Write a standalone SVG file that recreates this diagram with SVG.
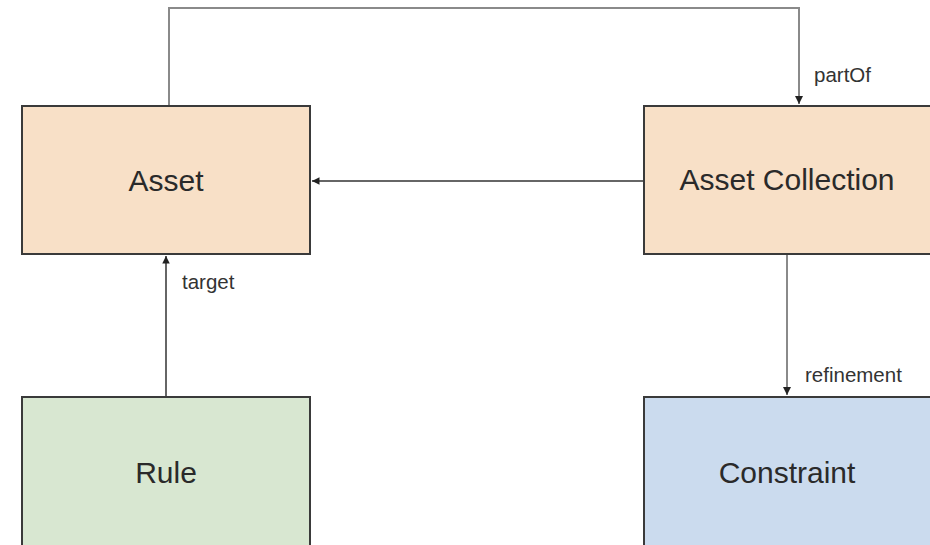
<svg xmlns="http://www.w3.org/2000/svg" width="930" height="545" viewBox="0 0 930 545">
<style>
.box{stroke:#3a3a3a;stroke-width:2}
.lbl{font-family:"Liberation Sans",Arial,sans-serif;font-size:30px;fill:#2a2a2a;text-anchor:middle}
.small{font-family:"Liberation Sans",Arial,sans-serif;font-size:20.5px;fill:#333}
.gray{stroke:#8a8a8a;stroke-width:2;fill:none}
.dark{stroke:#333;stroke-width:1.5;fill:none}
</style>
<defs>
<marker id="arr" viewBox="0 0 10 10" refX="10" refY="5" markerWidth="4" markerHeight="4" orient="auto" markerUnits="strokeWidth">
<path d="M0,0 L10,5 L0,10 z" fill="#222"/>
</marker>
<marker id="arr2" viewBox="0 0 10 10" refX="10" refY="5" markerWidth="5" markerHeight="5" orient="auto" markerUnits="strokeWidth">
<path d="M0,0 L10,5 L0,10 z" fill="#222"/>
</marker>
</defs>
<rect width="930" height="545" fill="#fff"/>
<g id="connectors">
<polyline class="gray" points="169,106 169,8 799,8 799,104" marker-end="url(#arr)"/>
<line class="dark" x1="644" y1="181" x2="312" y2="181" marker-end="url(#arr2)"/>
<line class="dark" x1="166" y1="397" x2="166" y2="256" marker-end="url(#arr2)"/>
<line class="gray" x1="787" y1="254" x2="787" y2="395" marker-end="url(#arr)"/>
<text class="small" x="814" y="82">partOf</text>
<text class="small" x="182" y="289">target</text>
<text class="small" x="805" y="382">refinement</text>
</g>
<g id="asset">
<rect class="box" x="22" y="106" width="288" height="148" fill="#f8e0c7"/>
<text class="lbl" x="166" y="191">Asset</text>
</g>
<g id="asset-collection">
<rect class="box" x="644" y="106" width="290" height="148" fill="#f8e0c7"/>
<text class="lbl" x="787" y="190">Asset Collection</text>
</g>
<g id="rule">
<rect class="box" x="22" y="397" width="288" height="160" fill="#d8e7d1"/>
<text class="lbl" x="166" y="483">Rule</text>
</g>
<g id="constraint">
<rect class="box" x="644" y="397" width="290" height="160" fill="#cbdbee"/>
<text class="lbl" x="787" y="483">Constraint</text>
</g>
</svg>
